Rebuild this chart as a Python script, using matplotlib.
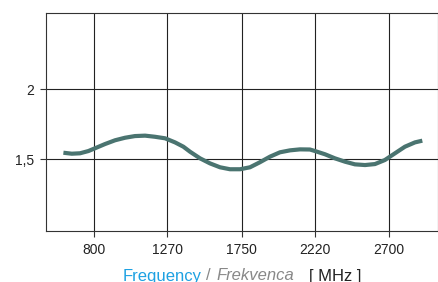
import numpy as np
import matplotlib.pyplot as plt
from matplotlib.ticker import FixedLocator

plt.rcParams['font.family'] = ['Liberation Sans', 'DejaVu Sans']

# curve
freq = [601, 655, 708, 762, 805, 869, 934, 998, 1062, 1127, 1191, 1256,
        1320, 1374, 1417, 1481, 1545, 1610, 1674, 1739, 1803, 1867, 1932,
        1996, 2061, 2125, 2189, 2222, 2286, 2350, 2415, 2479, 2544, 2608,
        2672, 2737, 2801, 2866, 2913]
value = [1.547, 1.540, 1.543, 1.559, 1.579, 1.609, 1.636, 1.654, 1.666,
         1.669, 1.661, 1.650, 1.621, 1.590, 1.554, 1.507, 1.471, 1.443,
         1.429, 1.429, 1.443, 1.479, 1.519, 1.550, 1.564, 1.571, 1.570,
         1.559, 1.536, 1.507, 1.483, 1.464, 1.459, 1.466, 1.495, 1.543,
         1.590, 1.621, 1.633]

x_ticks = [800, 1270, 1750, 2220, 2700]
y_ticks = [1.5, 2.0]
y_tick_labels = ['1,5', '2']

W, H = 439, 282
fig = plt.figure(figsize=(W / 100, H / 100), dpi=100)
ax = fig.add_axes([45.7 / W, 1 - 230.7 / H, (438.3 - 45.7) / W, (230.7 - 13.3) / H])

ax.plot(freq, value, color='#4a7470', lw=3.0, solid_capstyle='butt',
        solid_joinstyle='round', zorder=3)

ax.set_xlim(487, 3016)
ax.set_ylim(0.99, 2.543)
ax.xaxis.set_major_locator(FixedLocator(x_ticks))
ax.set_xticklabels([str(t) for t in x_ticks])
ax.yaxis.set_major_locator(FixedLocator(y_ticks))
ax.set_yticklabels(y_tick_labels)
ax.grid(True, color='#222222', lw=0.8)
ax.tick_params(length=4.5, width=0.8, color='#333333', labelcolor='#222222',
               labelsize=10, pad=4)
for s in ax.spines.values():
    s.set_color('#333333')
    s.set_linewidth(0.8)

yb = 1 - 280.5 / H
fig.text(123 / W, yb, 'Frequency', color='#1da1e2', fontsize=12, va='baseline')
fig.text(206 / W, yb, '/', color='#888888', fontsize=12, va='baseline')
fig.text(216 / W, yb, 'Frekvenca', color='#888888', fontsize=12,
         style='italic', va='baseline')
fig.text(309 / W, yb, '[ MHz ]', color='#222222', fontsize=12, va='baseline')

fig.savefig('out.png', dpi=100)
